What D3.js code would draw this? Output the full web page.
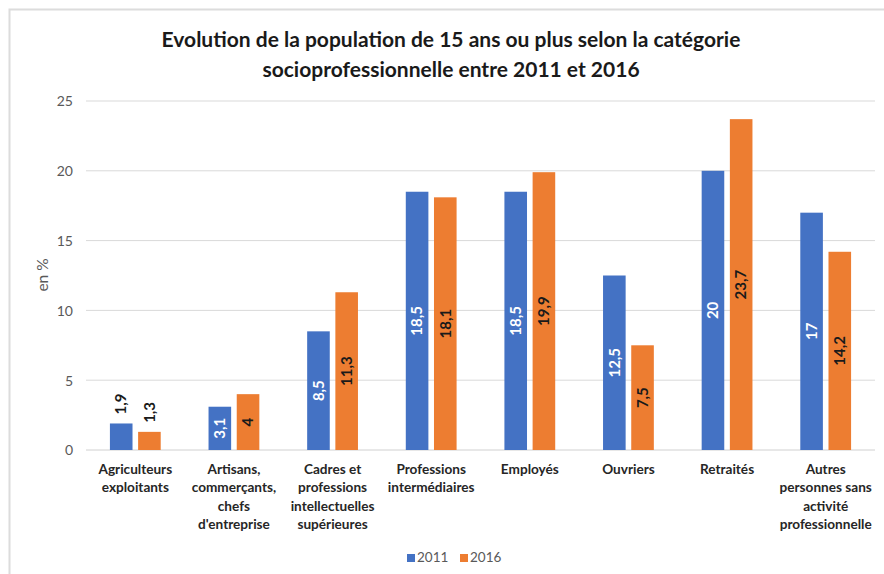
<!DOCTYPE html>
<html><head><meta charset="utf-8">
<script src="https://cdn.jsdelivr.net/npm/d3@7"></script>
<style>body{margin:0;background:#fff}svg{display:block}</style>
</head><body><svg id="c" width="884" height="574"></svg>
<script>
const categories = [
  ["Agriculteurs","exploitants"],
  ["Artisans,","commerçants,","chefs","d'entreprise"],
  ["Cadres et","professions","intellectuelles","supérieures"],
  ["Professions","intermédiaires"],
  ["Employés"],
  ["Ouvriers"],
  ["Retraités"],
  ["Autres","personnes sans","activité","professionnelle"]
];
const series = ["2011","2016"];
const values2011 = [1.9, 3.1, 8.5, 18.5, 18.5, 12.5, 20, 17];
const values2016 = [1.3, 4, 11.3, 18.1, 19.9, 7.5, 23.7, 14.2];
const yTicks = [0,5,10,15,20,25];
const colors = ["#4472C4","#ED7D31"];
const labelColors = ["#ffffff","#1a1a1a"];
const title = ["Evolution de la population de 15 ans ou plus selon la catégorie","socioprofessionnelle entre 2011 et 2016"];

const font = "Lato, 'Open Sans', sans-serif";
const svg = d3.select("#c");
// frame
svg.append("path").attr("d","M9.5,574 V9.5 H884").attr("fill","none").attr("stroke","#dcdcdc").attr("stroke-width",2);

const x0 = d3.scaleBand().domain(d3.range(categories.length)).range([86,875]).paddingInner(0).paddingOuter(0);
const y = d3.scaleLinear().domain([0,25]).range([450,101]);

// gridlines
svg.append("g").selectAll("line").data(yTicks).join("line")
  .attr("x1",86).attr("x2",875).attr("y1",d=>y(d)).attr("y2",d=>y(d))
  .attr("stroke",d=>d===0?"#d0d0d0":"#d9d9d9").attr("stroke-width",1);

// y axis
const yAxis = d3.axisLeft(y).tickValues(yTicks).tickSize(0).tickPadding(0).tickFormat(d=>d);
const ga = svg.append("g").attr("transform","translate(73,0)").call(yAxis);
ga.select(".domain").remove();
ga.selectAll("text").attr("font-family",font).attr("font-size",14).attr("fill","#595959").attr("dy","0.35em");

svg.append("text").attr("transform","translate(48,275) rotate(-90)").attr("text-anchor","middle")
  .attr("font-family",font).attr("font-size",15.5).attr("fill","#595959").text("en %");

// title
title.forEach((t,i)=>{
  svg.append("text").attr("x",451).attr("y",47+i*30).attr("text-anchor","middle")
    .attr("font-family",font).attr("font-weight","bold").attr("font-size",21).attr("fill","#1a1a1a").text(t);
});

// bars
const bw = 22.6, gap = 5.6;
const xs = d3.scaleBand().domain(series).range([0, 2*bw+gap]).paddingInner(gap/(bw+gap)).paddingOuter(0);
const data = [];
categories.forEach((c,i)=>{
  [values2011[i],values2016[i]].forEach((v,j)=>data.push({i,j,v,s:series[j]}));
});
const off = (x0.bandwidth() - (2*bw+gap))/2;
const g = svg.append("g");
g.selectAll("rect").data(data).join("rect")
  .attr("x",d=>x0(d.i)+off+xs(d.s)).attr("width",xs.bandwidth())
  .attr("y",d=>y(d.v)).attr("height",d=>y(0)-y(d.v)).attr("fill",d=>colors[d.j]);

// labels
data.forEach(d=>{
  const cx = x0(d.i)+off+xs(d.s)+xs.bandwidth()/2;
  const h = y(0)-y(d.v);
  const txt = String(d.v).replace(".",",");
  const t = g.append("text").attr("font-family",font).attr("font-weight","bold").attr("font-size",15).text(txt);
  if (h < 36) {
    t.attr("transform",`translate(${cx},${y(d.v)-9}) rotate(-90)`).attr("text-anchor","start").attr("dy","0.35em").attr("fill","#1a1a1a");
  } else {
    t.attr("transform",`translate(${cx},${(y(d.v)+y(0))/2}) rotate(-90)`).attr("text-anchor","middle").attr("dy","0.35em").attr("fill",labelColors[d.j]);
  }
});

// x labels
categories.forEach((c,i)=>{
  const t = svg.append("text").attr("text-anchor","middle").attr("font-family",font).attr("font-weight","bold")
    .attr("font-size",13.6).attr("fill","#262626");
  c.forEach((line,k)=>{
    t.append("tspan").attr("x",x0(i)+x0.bandwidth()/2).attr("y",474+k*18.3).text(line);
  });
});

// legend
const lg = svg.append("g");
series.forEach((s,j)=>{
  const lx = 407 + j*53;
  lg.append("rect").attr("x",lx).attr("y",554).attr("width",8).attr("height",8).attr("fill",colors[j]);
  lg.append("text").attr("x",lx+10).attr("y",562).attr("font-family",font).attr("font-size",13.5).attr("fill","#595959").text(s);
});
</script></body></html>
